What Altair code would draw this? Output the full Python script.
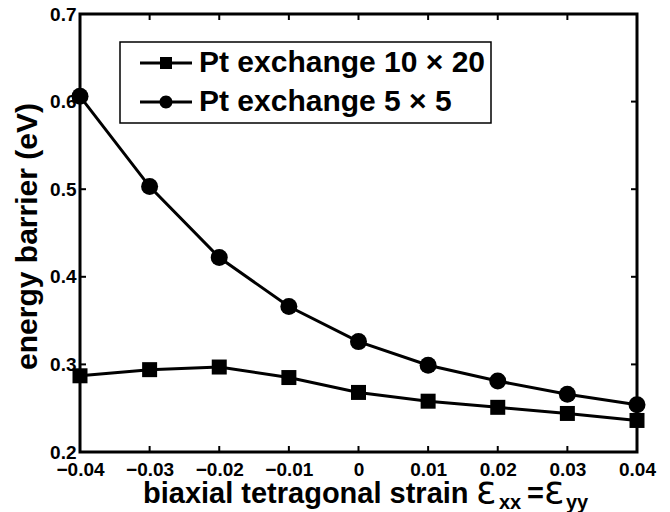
import altair as alt
import pandas as pd

# ---- data ----
strain = [-0.04, -0.03, -0.02, -0.01, 0.0, 0.01, 0.02, 0.03, 0.04]
barrier_10x20 = [0.287, 0.294, 0.297, 0.285, 0.268, 0.258, 0.251, 0.244, 0.236]
barrier_5x5 = [0.606, 0.503, 0.422, 0.366, 0.326, 0.299, 0.281, 0.266, 0.254]
series_names = ["Pt exchange 10 \u00d7 20", "Pt exchange 5 \u00d7 5"]
x_tick_values = [-0.04, -0.03, -0.02, -0.01, 0.0, 0.01, 0.02, 0.03, 0.04]
y_tick_values = [0.2, 0.3, 0.4, 0.5, 0.6, 0.7]
x_inner_ticks = [-0.03, -0.02, -0.01, 0.0, 0.01, 0.02, 0.03]
y_inner_ticks = [0.3, 0.4, 0.5, 0.6]

rows = []
for s, v in zip(strain, barrier_10x20):
    rows.append({"strain": s, "barrier": v, "series": series_names[0]})
for s, v in zip(strain, barrier_5x5):
    rows.append({"strain": s, "barrier": v, "series": series_names[1]})
df = pd.DataFrame(rows)

W, H = 557, 438
FONT = "Liberation Sans"

xscale = alt.Scale(domain=[-0.04, 0.04], nice=False, zero=False)
yscale = alt.Scale(domain=[0.2, 0.7], nice=False, zero=False)

xaxis = alt.Axis(values=x_tick_values, format=".2~f", title=None, ticks=False, tickSize=0,
                 grid=False, domain=False, labelFontSize=19, labelFont=FONT,
                 labelFontWeight="bold", labelColor="black", labelPadding=8,
                 labelFlush=False, labelOverlap=False, labelBound=False)
yaxis = alt.Axis(values=y_tick_values, format=".1f", title="energy barrier (eV)",
                 ticks=False, tickSize=0, grid=False, domain=False,
                 labelFontSize=19, labelFont=FONT, labelFontWeight="bold",
                 labelColor="black", labelPadding=4, labelFlush=False,
                 labelOverlap=False, labelBound=False,
                 titleFont=FONT, titleFontSize=30, titleFontWeight="bold",
                 titleColor="black", titleX=-44, titleY=222, titleAngle=270,
                 titleAlign="center", titleBaseline="alphabetic")

base = alt.Chart(df)

lines = base.mark_line(color="black", strokeWidth=3).encode(
    x=alt.X("strain:Q", scale=xscale, axis=xaxis),
    y=alt.Y("barrier:Q", scale=yscale, axis=yaxis),
    detail="series:N",
)

points = base.mark_point(filled=True, color="black", opacity=1).encode(
    x=alt.X("strain:Q", scale=xscale),
    y=alt.Y("barrier:Q", scale=yscale),
    shape=alt.Shape("series:N", scale=alt.Scale(domain=series_names, range=["square", "circle"]), legend=None),
    size=alt.Size("series:N", scale=alt.Scale(domain=series_names, range=[225, 289]), legend=None),
)

# legend glyphs: a 3px line with a filled marker in the middle (unit = 10px)
sq_path = "M-2.6,-0.15H2.6V0.15H-2.6Z M-0.6,-0.6H0.6V0.6H-0.6Z"
ci_path = ("M-2.6,-0.15H2.6V0.15H-2.6Z "
           "M0.65,0A0.65,0.65,0,1,1,-0.65,0A0.65,0.65,0,1,1,0.65,0Z")

legend_layer = base.mark_point(filled=True, color="black", opacity=0, size=400).encode(
    x=alt.X("strain:Q", scale=xscale),
    y=alt.Y("barrier:Q", scale=yscale),
    shape=alt.Shape(
        "series:N",
        scale=alt.Scale(domain=series_names, range=[sq_path, ci_path]),
        legend=alt.Legend(
            title=None, orient="none", legendX=40, legendY=28,
            fillColor="white", strokeColor="black", padding=6,
            rowPadding=9, symbolSize=400, symbolOffset=25, labelOffset=18,
            symbolFillColor="black", symbolStrokeColor="black",
            symbolStrokeWidth=0.5, symbolOpacity=1,
            labelFont=FONT, labelFontSize=30, labelFontWeight="bold",
            labelColor="black", labelLimit=500,
        ),
    ),
)

# inward tick marks on all four sides
xt = pd.DataFrame({"t": x_inner_ticks})
yt = pd.DataFrame({"t": y_inner_ticks})
tick_bottom = alt.Chart(xt).mark_rule(color="black", strokeWidth=2).encode(
    x=alt.X("t:Q", scale=xscale), y=alt.value(H), y2=alt.value(H - 6))
tick_top = alt.Chart(xt).mark_rule(color="black", strokeWidth=2).encode(
    x=alt.X("t:Q", scale=xscale), y=alt.value(0), y2=alt.value(6))
tick_left = alt.Chart(yt).mark_rule(color="black", strokeWidth=2).encode(
    y=alt.Y("t:Q", scale=yscale), x=alt.value(0), x2=alt.value(6))
tick_right = alt.Chart(yt).mark_rule(color="black", strokeWidth=2).encode(
    y=alt.Y("t:Q", scale=yscale), x=alt.value(W), x2=alt.value(W - 6))

# x axis title with subscripts
one = pd.DataFrame({"a": [0]})
def txt(s, x, y, size, weight="bold", font=FONT):
    return alt.Chart(one).mark_text(
        text=s, font=font, fontSize=size, fontWeight=weight, color="black",
        align="left", baseline="alphabetic"
    ).encode(x=alt.value(x), y=alt.value(y))

title_parts = [
    txt("biaxial tetragonal strain", 63, 489, 29),
    txt("\u03b5", 396, 489, 38, "normal", "DejaVu Sans"),
    txt("xx", 419, 495, 20),
    txt("=", 447, 489, 29),
    txt("\u03b5", 464, 489, 38, "normal", "DejaVu Sans"),
    txt("yy", 486, 495, 20),
]

chart = alt.layer(
    lines, points, legend_layer, tick_bottom, tick_top, tick_left, tick_right, *title_parts
).resolve_scale(shape="independent", size="independent").properties(
    width=W, height=H,
    autosize=alt.AutoSizeParams(type="none"),
    padding={"left": 72, "top": 6, "right": 20, "bottom": 60},
    background="white",
).configure_view(stroke="black", strokeWidth=3).configure_legend(strokeWidth=1.5)

chart.save("out.html", embed_options={"renderer": "svg", "actions": False})
